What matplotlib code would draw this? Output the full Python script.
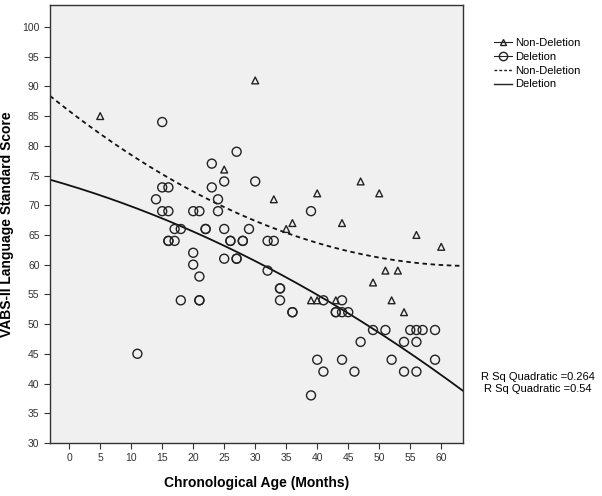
import numpy as np
import matplotlib.pyplot as plt
from matplotlib.lines import Line2D

plt.rcParams['font.family'] = ['Liberation Sans', 'DejaVu Sans']

# Non-Deletion group (triangles)
nondel_age = [5, 30, 25, 33, 40, 47, 50, 36, 35, 44, 56, 60, 51, 53, 49, 52, 54, 39, 40, 43]
nondel_score = [85, 91, 76, 71, 72, 74, 72, 67, 66, 67, 65, 63, 59, 59, 57, 54, 52, 54, 54, 54]

# Deletion group (circles), repeated pairs are overlapping cases
del_age = [15, 27, 23, 25, 30, 15, 16, 23, 14, 24,
           15, 16, 20, 21, 24, 39,
           17, 18, 22, 22, 25, 29,
           16, 16, 17, 26, 26, 28, 28, 32, 33,
           20, 25, 27, 27, 20, 32, 21, 34, 34,
           18, 21, 21, 34, 41, 44,
           36, 36, 43, 43, 44, 45,
           49, 51, 55, 56, 57, 59,
           47, 54, 56, 11,
           40, 44, 52, 59,
           41, 46, 54, 56, 39]
del_score = [84, 79, 77, 74, 74, 73, 73, 73, 71, 71,
             69, 69, 69, 69, 69, 69,
             66, 66, 66, 66, 66, 66,
             64, 64, 64, 64, 64, 64, 64, 64, 64,
             62, 61, 61, 61, 60, 59, 58, 56, 56,
             54, 54, 54, 54, 54, 54,
             52, 52, 52, 52, 52, 52,
             49, 49, 49, 49, 49, 49,
             47, 47, 47, 45,
             44, 44, 44, 44,
             42, 42, 42, 42, 38]

# quadratic fit for the non-deletion group as drawn in the chart (c2, c1, c0)
nondel_fit = [0.00615, -0.801, 85.86]

group_labels = ["Non-Deletion", "Deletion"]
r2_labels = ["R Sq Quadratic =0.264", "R Sq Quadratic =0.54"]
x_ticks = list(range(0, 61, 5))
y_ticks = list(range(30, 101, 5))

fig = plt.figure(figsize=(6.02, 4.96), dpi=100)
ax = fig.add_axes([0.083, 0.107, 0.686, 0.883])
ax.set_facecolor('#f0f0f0')

xmin, xmax = -3.1, 63.5
ax.set_xlim(xmin, xmax)
ax.set_ylim(30, 103.7)

ax.scatter(nondel_age, nondel_score, marker='^', s=24, facecolors='none',
           edgecolors='#222222', linewidths=1.0, zorder=3)
ax.scatter(del_age, del_score, marker='o', s=42, facecolors='none',
           edgecolors='#222222', linewidths=1.0, zorder=3)

# quadratic fit lines
xs = np.linspace(xmin, xmax, 200)
c_d = np.polyfit(del_age, del_score, 2)
ax.plot(xs, np.polyval(nondel_fit, xs), color='#111111', lw=1.3, ls=(0, (2.5, 2)), zorder=2)
ax.plot(xs, np.polyval(c_d, xs), color='#111111', lw=1.3, ls='-', zorder=2)

ax.set_xticks(x_ticks)
ax.set_yticks(y_ticks)
ax.tick_params(direction='out', length=4, width=0.8, labelsize=7.5,
               labelcolor='#333333', color='#333333')
ax.tick_params(top=False, right=False)
for sp in ax.spines.values():
    sp.set_color('#333333')
    sp.set_linewidth(1.0)

ax.set_xlabel("Chronological Age (Months)", fontsize=10, fontweight='bold', labelpad=9)
ax.set_ylabel("VABS-II Language Standard Score", fontsize=10, fontweight='bold', labelpad=6)

handles = [
    Line2D([], [], marker='^', color='#222222', markerfacecolor='none', markersize=5, lw=0.8),
    Line2D([], [], marker='o', color='#222222', markerfacecolor='none', markersize=6, lw=0.8),
    Line2D([], [], color='#222222', lw=1.0, ls=(0, (2, 1.5))),
    Line2D([], [], color='#222222', lw=1.0),
]
labels = [group_labels[0], group_labels[1], group_labels[0], group_labels[1]]
fig.legend(handles, labels, loc='upper left', bbox_to_anchor=(0.812, 0.935),
           frameon=False, fontsize=8, handlelength=1.6, handletextpad=0.3,
           labelspacing=0.35, borderpad=0)

fig.text(0.894, 0.239, r2_labels[0], ha='center', va='center', fontsize=8)
fig.text(0.894, 0.215, r2_labels[1], ha='center', va='center', fontsize=8)

fig.savefig("out.png", dpi=100)
